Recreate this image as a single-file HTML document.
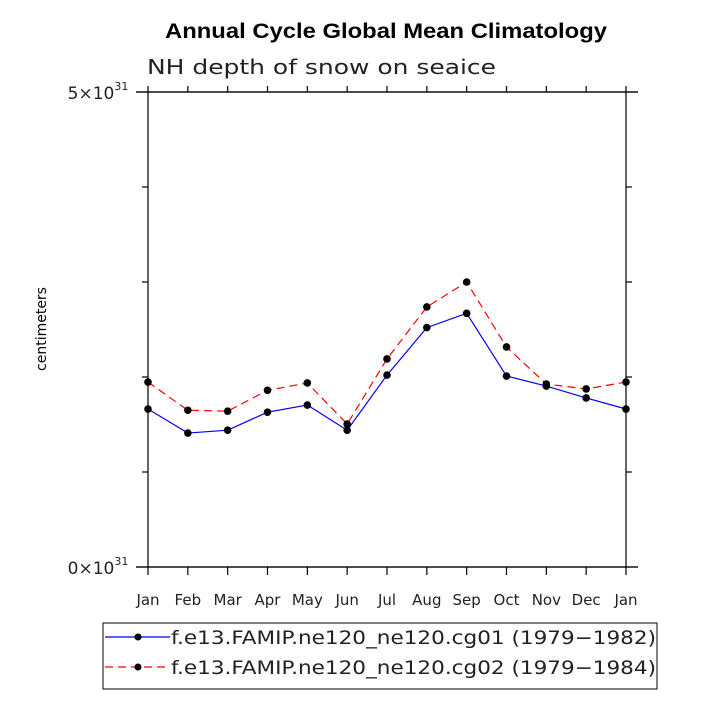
<!DOCTYPE html>
<html><head><meta charset="utf-8"><style>
body{margin:0;background:#fff;}
svg text{font-family:"DejaVu Sans","Liberation Sans",sans-serif;}
</style></head><body>
<svg id="c" width="706" height="706" viewBox="0 0 706 706">
<text x="165" y="38" font-size="21" font-weight="bold" textLength="442" lengthAdjust="spacingAndGlyphs" style="font-family:'Liberation Sans',sans-serif">Annual Cycle Global Mean Climatology</text>
<text x="147" y="74" font-size="20" fill="#222" textLength="349" lengthAdjust="spacingAndGlyphs">NH depth of snow on seaice</text>
<text x="46" y="329" font-size="14" text-anchor="middle" transform="rotate(-90 46 329)">centimeters</text>
<rect x="148" y="92" width="478" height="475" fill="none" stroke="#000" stroke-width="1.2"/>
<g id="axes"></g>
<g id="series"></g>
<rect x="103" y="623" width="554" height="66" fill="#fff" stroke="#000" stroke-width="1"/>
<g>
<line x1="105" y1="637" x2="170" y2="637" stroke="#00f" stroke-width="1.2"/>
<circle cx="138" cy="637" r="3.5" fill="#000"/>
<text x="171" y="644" font-size="19" fill="#222" textLength="485" lengthAdjust="spacingAndGlyphs">f.e13.FAMIP.ne120_ne120.cg01 (1979−1982)</text>
</g>
<g>
<line x1="105" y1="667" x2="170" y2="667" stroke="#f00" stroke-width="1.2" stroke-dasharray="8,5"/>
<circle cx="138" cy="667" r="3.5" fill="#000"/>
<text x="171" y="674" font-size="19" fill="#222" textLength="485" lengthAdjust="spacingAndGlyphs">f.e13.FAMIP.ne120_ne120.cg02 (1979−1984)</text>
</g>
</svg>
<script>
const months=["Jan","Feb","Mar","Apr","May","Jun","Jul","Aug","Sep","Oct","Nov","Dec","Jan"];
const cg01=[1.663,1.41,1.44,1.63,1.705,1.44,2.02,2.52,2.67,2.01,1.905,1.78,1.663];
const cg02=[1.947,1.65,1.64,1.86,1.937,1.505,2.19,2.737,3.0,2.316,1.926,1.874,1.947];
const yTicks=[0,1,2,3,4,5];
const NS="http://www.w3.org/2000/svg";
const x0=148,x1=626,y0=567,y1=92,ymax=5;
function X(i){return x0+(x1-x0)*i/(months.length-1);}
function Y(v){return y0-(y0-y1)*v/ymax;}
function mk(t,a,p){const e=document.createElementNS(NS,t);for(const k in a)e.setAttribute(k,a[k]);p.appendChild(e);return e;}
const ax=document.getElementById('axes');
months.forEach((m,i)=>{
 const l=mk('line',{x1:X(i),x2:X(i),y1:y0,y2:y0+8,stroke:'#000','stroke-width':1.2},ax);
 
 
 const l2=mk('line',{x1:X(i),x2:X(i),y1:y1,y2:y1-6,stroke:'#000','stroke-width':1.2},ax);
 
 
 const t=mk('text',{x:X(i),y:y0+38,'text-anchor':'middle','font-size':15,fill:'#222'},ax);
 t.textContent=m;
 
 
});
mk('line',{x1:x0-12,x2:x1+12,y1:y0,y2:y0,stroke:'#000','stroke-width':1.2},ax);
mk('line',{x1:x0-12,x2:x1+12,y1:y1,y2:y1,stroke:'#000','stroke-width':1.2},ax);
yTicks.forEach(v=>{
 const y=Y(v);
 const l=mk('line',{x1:x0-(v==0||v==5?12:6),x2:x0,y1:y,y2:y,stroke:'#000','stroke-width':1.2},ax);
 
 
 mk('line',{x1:x1,x2:x1+(v==0||v==5?12:6),y1:y,y2:y,stroke:'#000','stroke-width':1.2},ax);
 if(v==0||v==5){
  const t=mk('text',{x:x0-50,y:y+7,'text-anchor':'middle','font-size':17,fill:'#222'},ax);
  t.innerHTML=v+'×10<tspan font-size="11" dy="-9">31</tspan>';
  
  
 }
});
const sg=document.getElementById('series');
function draw(data,color,dash,name){
 const p=mk('polyline',{points:data.map((v,i)=>X(i)+','+Y(v)).join(' '),fill:'none',stroke:color,'stroke-width':1.2},sg);
 if(dash)p.setAttribute('stroke-dasharray',dash);
 
 
 data.forEach((v,i)=>{
  const c=mk('circle',{cx:X(i),cy:Y(v),r:3.8,fill:'#000'},sg);
  
  
 });
}
draw(cg01,'#00f',null,'cg01');
draw(cg02,'#f00','8,5','cg02');
</script>
</body></html>
